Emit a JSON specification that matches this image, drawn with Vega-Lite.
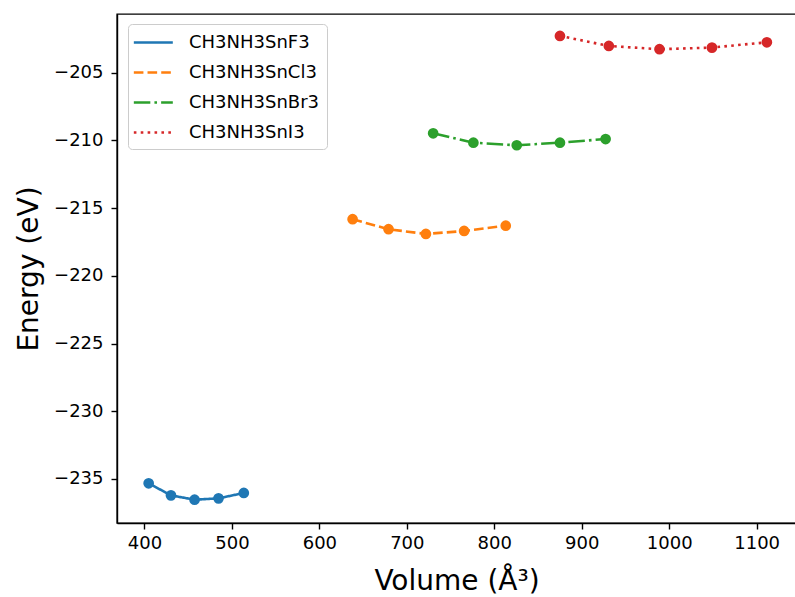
{
  "$schema": "https://vega.github.io/schema/vega-lite/v6.json",
  "autosize": "none",
  "width": 679,
  "height": 509,
  "padding": {"left": 117, "top": 14, "right": 0, "bottom": 74},
  "background": "white",
  "data": {
    "values": [
      {"compound": "CH3NH3SnF3", "volume": 404.8, "energy": -235.32},
      {"compound": "CH3NH3SnF3", "volume": 430.3, "energy": -236.21},
      {"compound": "CH3NH3SnF3", "volume": 457.3, "energy": -236.53},
      {"compound": "CH3NH3SnF3", "volume": 484.7, "energy": -236.43},
      {"compound": "CH3NH3SnF3", "volume": 513.6, "energy": -236.03},
      {"compound": "CH3NH3SnCl3", "volume": 638.0, "energy": -215.82},
      {"compound": "CH3NH3SnCl3", "volume": 679.1, "energy": -216.56},
      {"compound": "CH3NH3SnCl3", "volume": 721.8, "energy": -216.91},
      {"compound": "CH3NH3SnCl3", "volume": 765.5, "energy": -216.69},
      {"compound": "CH3NH3SnCl3", "volume": 813.1, "energy": -216.30},
      {"compound": "CH3NH3SnBr3", "volume": 730.1, "energy": -209.48},
      {"compound": "CH3NH3SnBr3", "volume": 776.1, "energy": -210.17},
      {"compound": "CH3NH3SnBr3", "volume": 825.7, "energy": -210.36},
      {"compound": "CH3NH3SnBr3", "volume": 875.1, "energy": -210.17},
      {"compound": "CH3NH3SnBr3", "volume": 927.3, "energy": -209.90},
      {"compound": "CH3NH3SnI3", "volume": 875.1, "energy": -202.29},
      {"compound": "CH3NH3SnI3", "volume": 931.0, "energy": -203.03},
      {"compound": "CH3NH3SnI3", "volume": 988.9, "energy": -203.27},
      {"compound": "CH3NH3SnI3", "volume": 1048.9, "energy": -203.15},
      {"compound": "CH3NH3SnI3", "volume": 1111.7, "energy": -202.76}
    ]
  },
  "encoding": {
    "x": {
      "field": "volume",
      "type": "quantitative",
      "scale": {"domain": [368.6, 1145], "nice": false, "zero": false},
      "axis": {"title": "Volume (Å³)", "format": "d", "values": [400, 500, 600, 700, 800, 900, 1000, 1100], "labelPadding": 5, "titlePadding": 15}
    },
    "y": {
      "field": "energy",
      "type": "quantitative",
      "scale": {"domain": [-238.25, -200.67], "nice": false, "zero": false},
      "axis": {
        "title": "Energy (eV)",
        "values": [-235, -230, -225, -220, -215, -210, -205],
        "labelExpr": "replace(format(datum.value, 'd'), '-', '\u2212')",
        "labelPadding": 8,
        "titlePadding": 10
      }
    },
    "color": {
      "field": "compound",
      "type": "nominal",
      "scale": {
        "domain": ["CH3NH3SnF3", "CH3NH3SnCl3", "CH3NH3SnBr3", "CH3NH3SnI3"],
        "range": ["#1f77b4", "#ff7f0e", "#2ca02c", "#d62728"]
      },
      "legend": {
        "title": null,
        "orient": "none",
        "legendX": 11,
        "legendY": 10,
        "symbolType": "M-1.3,0H2.7",
        "symbolFillColor": "transparent"
      }
    }
  },
  "layer": [
    {
      "mark": {"type": "line", "strokeWidth": 2.6},
      "encoding": {
        "strokeDash": {
          "field": "compound",
          "type": "nominal",
          "scale": {
            "domain": ["CH3NH3SnF3", "CH3NH3SnCl3", "CH3NH3SnBr3", "CH3NH3SnI3"],
            "range": [[1, 0], [9.6, 4.1], [16.5, 4.1, 2.6, 4.1], [2.6, 4.3]]
          },
          "legend": {
            "title": null,
            "orient": "none",
            "legendX": 11,
            "legendY": 10,
            "symbolType": "M-1.3,0H2.7"
          }
        }
      }
    },
    {
      "mark": {"type": "point", "filled": true, "opacity": 1, "size": 115, "shape": "circle", "strokeWidth": 0}
    }
  ],
  "config": {
    "font": "DejaVu Sans",
    "view": {"stroke": "black", "strokeWidth": 1.4},
    "axis": {
      "grid": false,
      "domainColor": "black",
      "domainWidth": 1.4,
      "tickColor": "black",
      "tickWidth": 1.4,
      "tickSize": 6,
      "labelFontSize": 18,
      "labelColor": "black",
      "titleFontSize": 28,
      "titleFontWeight": "normal",
      "titleColor": "black"
    },
    "legend": {
      "symbolSize": 380,
      "symbolStrokeWidth": 2.6,
      "labelFontSize": 18,
      "labelColor": "black",
      "labelLimit": 0,
      "labelOffset": 31,
      "rowPadding": 9,
      "padding": 7,
      "strokeColor": "#cccccc",
      "cornerRadius": 4,
      "fillColor": "rgba(255,255,255,0.8)"
    }
  }
}
